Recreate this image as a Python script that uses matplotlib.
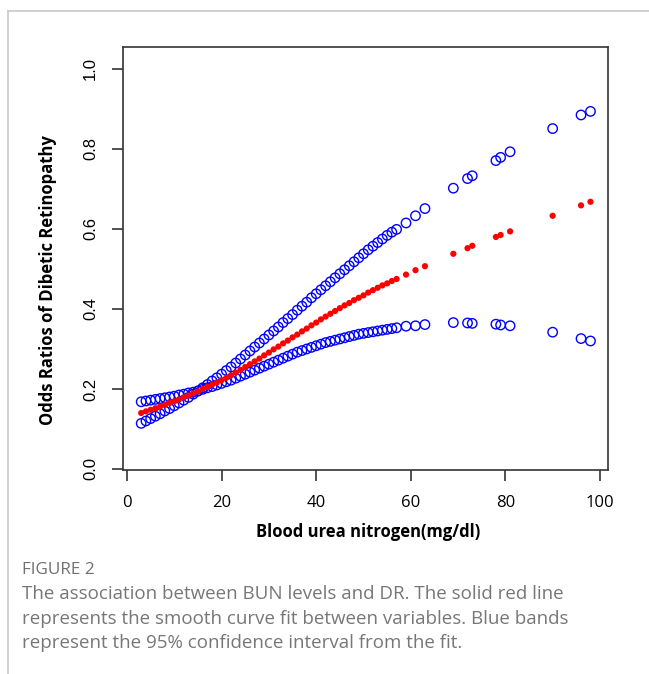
import matplotlib
matplotlib.use("Agg")
import matplotlib.pyplot as plt
from matplotlib.lines import Line2D
import numpy as np

# Blood urea nitrogen values (mg/dl)
bun = [3, 4, 5, 6, 7, 8, 9, 10, 11, 12, 13, 14, 15, 16, 17, 18, 19, 20,
       21, 22, 23, 24, 25, 26, 27, 28, 29, 30, 31, 32, 33, 34, 35, 36, 37,
       38, 39, 40, 41, 42, 43, 44, 45, 46, 47, 48, 49, 50, 51, 52, 53, 54,
       55, 56, 57, 59, 61, 63, 69, 72, 73, 78, 79, 81, 90, 96, 98]

# smooth curve fit
fit = [0.140, 0.144, 0.148, 0.152, 0.156, 0.160, 0.165, 0.169, 0.174, 0.179,
       0.184, 0.189, 0.194, 0.200, 0.205, 0.211, 0.216, 0.222, 0.228, 0.234,
       0.241, 0.248, 0.255, 0.262, 0.269, 0.276, 0.284, 0.291, 0.299, 0.306,
       0.314, 0.321, 0.329, 0.336, 0.344, 0.351, 0.359, 0.366, 0.374, 0.381,
       0.388, 0.395, 0.402, 0.409, 0.415, 0.422, 0.428, 0.434, 0.441, 0.447,
       0.453, 0.459, 0.464, 0.470, 0.475,
       0.486, 0.497, 0.507, 0.538, 0.552, 0.558, 0.580, 0.585, 0.594, 0.633,
       0.659, 0.668]

# 95% CI band ending high
ci_up = [0.114, 0.120, 0.126, 0.132, 0.138, 0.145, 0.151, 0.158, 0.165, 0.172,
         0.179, 0.187, 0.195, 0.203, 0.211, 0.220, 0.228, 0.237, 0.246, 0.255,
         0.265, 0.275, 0.285, 0.295, 0.305, 0.315, 0.325, 0.335, 0.345, 0.355,
         0.366, 0.376, 0.386, 0.397, 0.407, 0.417, 0.428, 0.438, 0.448, 0.458,
         0.468, 0.478, 0.488, 0.498, 0.508, 0.518, 0.528, 0.538, 0.548, 0.557,
         0.566, 0.575, 0.584, 0.592, 0.599,
         0.615, 0.633, 0.651, 0.702, 0.726, 0.733, 0.771, 0.779, 0.793, 0.851,
         0.885, 0.894]

# 95% CI band ending low
ci_low = [0.168, 0.170, 0.172, 0.174, 0.176, 0.178, 0.180, 0.182, 0.185, 0.187,
          0.190, 0.192, 0.195, 0.199, 0.203, 0.206, 0.210, 0.214, 0.218, 0.222,
          0.227, 0.232, 0.237, 0.242, 0.247, 0.252, 0.257, 0.262, 0.267, 0.272,
          0.277, 0.282, 0.287, 0.292, 0.296, 0.300, 0.304, 0.308, 0.312, 0.316,
          0.319, 0.322, 0.325, 0.328, 0.331, 0.334, 0.337, 0.339, 0.341, 0.343,
          0.345, 0.347, 0.349, 0.351, 0.353,
          0.357, 0.358, 0.361, 0.366, 0.365, 0.364, 0.362, 0.360, 0.358, 0.342,
          0.326, 0.320]

x_ticks = [0, 20, 40, 60, 80, 100]
y_ticks = [0.0, 0.2, 0.4, 0.6, 0.8, 1.0]

fig = plt.figure(figsize=(6.49, 6.74), dpi=100)
ax = fig.add_axes([0.1895, 0.3027, 0.7473, 0.6276])

ax.scatter(bun, ci_up, s=46, facecolors='none', edgecolors='blue', linewidths=1.0, zorder=3)
ax.scatter(bun, ci_low, s=46, facecolors='none', edgecolors='blue', linewidths=1.0, zorder=3)
ax.scatter(bun, fit, s=20, color='red', edgecolors='none', zorder=4)

ax.set_xlim(-0.85, 101.7)
ax.set_ylim(-0.0025, 1.055)
ax.set_xticks(x_ticks)
ax.set_xticklabels([str(t) for t in x_ticks], fontfamily='Open Sans', fontsize=12)
ax.set_yticks(y_ticks)
ax.set_yticklabels([f"{t:.1f}" for t in y_ticks], fontfamily='Liberation Sans',
                   fontsize=12, rotation=90, va='center')
ax.tick_params(direction='out', length=8, width=1.2, color='#333333')
ax.tick_params(axis='x', pad=10)
ax.tick_params(axis='y', pad=10)
for sp in ax.spines.values():
    sp.set_linewidth(1.2)
    sp.set_color('#333333')

ax.set_xlabel('Blood urea nitrogen(mg/dl)', fontfamily='Open Sans', fontweight='bold',
              fontsize=12)
ax.xaxis.set_label_coords(0.505, -0.126)
ax.set_ylabel('Odds Ratios of Dibetic Retinopathy', fontfamily='Open Sans',
              fontweight='bold', fontsize=12)
ax.yaxis.set_label_coords(-0.136, 0.45)

# page frame lines
fig.add_artist(Line2D([8/649, 1], [1 - 11/674, 1 - 11/674], color='#c8c8c8', lw=1.2))
fig.add_artist(Line2D([8/649, 8/649], [0, 1 - 11/674], color='#c8c8c8', lw=1.2))

# caption
fig.text(22/649, 1 - 570/674, 'FIGURE 2', fontfamily='Open Sans', fontsize=12.3,
         color='#707070', va='center')
caption = ["The association between BUN levels and DR. The solid red line",
           "represents the smooth curve fit between variables. Blue bands",
           "represent the 95% confidence interval from the fit."]
for i, line in enumerate(caption):
    fig.text(22/649, 1 - (594 + i * 24.5)/674, line, fontfamily='Open Sans',
             fontsize=13.5, color='#777777', va='center')

fig.savefig('out.png', dpi=100)
